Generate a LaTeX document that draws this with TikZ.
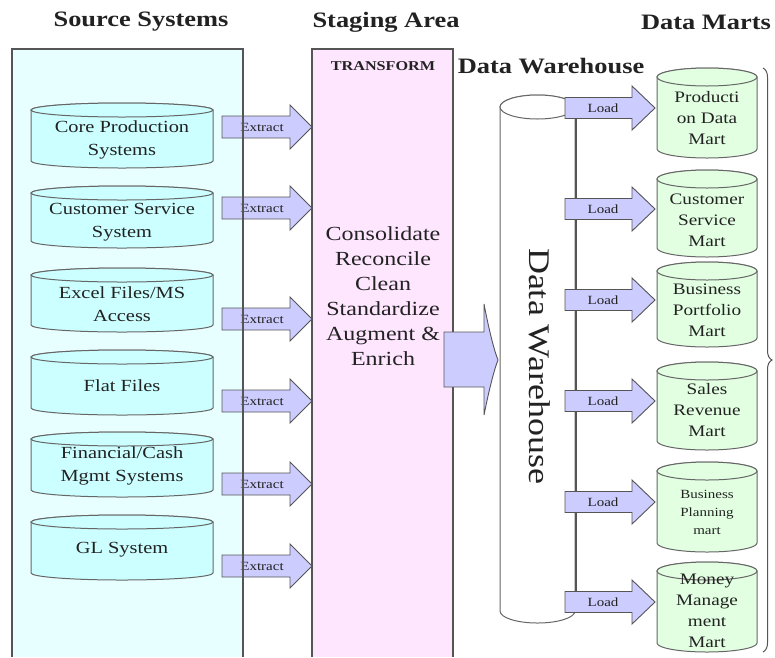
\documentclass[tikz,border=0pt]{standalone}
\usepackage{fontspec}
\setmainfont[FakeStretch=1.2]{Liberation Serif}
\usetikzlibrary{decorations.pathreplacing}
\definecolor{srcbg}{HTML}{E8FFFF}
\definecolor{srccyl}{HTML}{CCFFFF}
\definecolor{stagebg}{HTML}{FFE6FF}
\definecolor{arrfill}{HTML}{CCCCFF}
\definecolor{martfill}{HTML}{E2FFE2}
\definecolor{edgegray}{HTML}{555555}
\definecolor{cylgray}{HTML}{666666}
\definecolor{txtc}{HTML}{222222}
\newcommand\dbcyl[6]{%
  \pgfmathsetmacro\cxx{(#1+#3)/2}\pgfmathsetmacro\rxx{(#3-#1)/2}%
  \filldraw[#6] (#1,-#2-#5) -- (#1,-#4+#5) arc[start angle=180,end angle=360,x radius=\rxx,y radius=#5] -- (#3,-#2-#5) arc[start angle=0,end angle=180,x radius=\rxx,y radius=#5] -- cycle;
  \draw[#6] (\cxx,-#2-#5) ellipse[x radius=\rxx,y radius=#5];
}
\tikzset{
  titletxt/.style={font=\fontsize{22}{26}\selectfont\bfseries, text=txtc, inner sep=0pt},
  srctxt/.style={align=center, font=\fontsize{17}{23}\selectfont, text=txtc, inner sep=0pt},
  marttxt/.style={align=center, font=\fontsize{16}{21}\selectfont, text=txtc, inner sep=0pt},
  stagetxt/.style={align=center, font=\fontsize{20}{25}\selectfont, text=txtc, inner sep=0pt},
  lbl/.style={font=\fontsize{12.5}{14}\selectfont, text=txtc, inner sep=0pt},
  srccylstyle/.style={draw=cylgray, fill=srccyl, line width=1pt},
  martcylstyle/.style={draw=cylgray, fill=martfill, line width=1pt},
  arrshape/.style={draw=edgegray, fill=arrfill, line width=0.9pt},
  boxedge/.style={draw=edgegray, line width=1.1pt},
}
\begin{document}
\begin{tikzpicture}[x=1pt,y=1pt]
\useasboundingbox (0,0) rectangle (775,-657);
\fill[white] (0,0) rectangle (775,-657);
% titles
\node[titletxt] (tsrc) at (141,-22) {Source Systems};
\node[titletxt] (tstage) at (386,-22) {Staging Area};
\node[titletxt] (tmarts) at (706,-22) {Data Marts};
\node[titletxt] (tdw) at (551,-66) {Data Warehouse};
% source box
\fill[srcbg] (12,-49) rectangle (243,-657);
% source cylinders
\dbcyl{31}{103}{213}{168}{7}{srccylstyle}
\dbcyl{31}{186}{213}{248}{7}{srccylstyle}
\dbcyl{31}{268}{213}{332}{7}{srccylstyle}
\dbcyl{31}{350}{213}{415}{7}{srccylstyle}
\dbcyl{31}{432}{213}{497}{7}{srccylstyle}
\dbcyl{31}{515}{213}{580}{7}{srccylstyle}
\node[srctxt] (core) at (122,-140) {Core Production\\Systems};
\node[srctxt] (cust) at (122,-222) {Customer Service\\System};
\node[srctxt] (excel) at (122,-304) {Excel Files/MS\\Access};
\node[srctxt] (flat) at (122,-386) {Flat Files};
\node[srctxt] (fin) at (122,-466) {Financial/Cash\\Mgmt Systems};
\node[srctxt] (gl) at (122,-550) {GL System};
% staging box
\filldraw[boxedge, fill=stagebg] (312,-657) -- (312,-49) -- (453,-49) -- (453,-657);
\node[font=\fontsize{13.5}{15}\selectfont\bfseries, text=txtc, inner sep=0pt] (transform) at (383,-66) {TRANSFORM};
\node[stagetxt] (steps) at (383,-296) {Consolidate\\Reconcile\\Clean\\Standardize\\Augment \&\\Enrich};
% extract arrows
\foreach \yc/\nm in {127/ex1,208/ex2,319/ex3,401/ex4,484/ex5,566/ex6}{
  \filldraw[arrshape] (222,-\yc+11) -- (290,-\yc+11) -- (290,-\yc+22) -- (312,-\yc) -- (290,-\yc-22) -- (290,-\yc-11) -- (222,-\yc-11) -- cycle;
  \node[lbl] (\nm) at (262,-\yc) {Extract};
}
\draw[boxedge] (12,-657) -- (12,-49) -- (243,-49) -- (243,-657);
% data warehouse cylinder
\dbcyl{500}{95}{575}{623}{12}{draw=cylgray, fill=white, line width=1pt}
\draw[edgegray, line width=1.1pt] (576,-107) -- (576,-611);
\node[font=\fontsize{30}{34}\selectfont, text=txtc, inner sep=0pt, rotate=-90] (dwtxt) at (540,-366) {Data Warehouse};
% big arrow
\filldraw[arrshape] (444,-332) -- (484,-332) -- (484,-304) .. controls (489,-330) and (494,-350) .. (498,-360) .. controls (494,-370) and (489,-390) .. (484,-415) -- (484,-387) -- (444,-387) -- cycle;
% load arrows
\foreach \yc/\nm in {108/ld1,209/ld2,300/ld3,401/ld4,502/ld5,602/ld6}{
  \filldraw[arrshape] (565,-\yc+10.5) -- (632,-\yc+10.5) -- (632,-\yc+22) -- (655,-\yc) -- (632,-\yc-22) -- (632,-\yc-10.5) -- (565,-\yc-10.5) -- cycle;
  \node[lbl] (\nm) at (603,-\yc) {Load};
}
% data marts
\dbcyl{657}{68}{757}{158}{9}{martcylstyle}
\dbcyl{657}{170}{757}{257}{9}{martcylstyle}
\dbcyl{657}{262}{757}{347}{9}{martcylstyle}
\dbcyl{657}{362}{757}{450}{9}{martcylstyle}
\dbcyl{657}{462}{757}{552}{9}{martcylstyle}
\dbcyl{657}{562}{757}{652}{9}{martcylstyle}
\node[marttxt] (m1) at (707,-118) {Producti\\on Data\\Mart};
\node[marttxt] (m2) at (707,-220) {Customer\\Service\\Mart};
\node[marttxt] (m3) at (707,-310) {Business\\Portfolio\\Mart};
\node[marttxt] (m4) at (707,-410) {Sales\\Revenue\\Mart};
\node[align=center, font=\fontsize{12.5}{18}\selectfont, text=txtc, inner sep=0pt] (m5) at (707,-512) {Business\\Planning\\mart};
\node[marttxt] (m6) at (707,-611) {Money\\Manage\\ment\\Mart};
% brace
\draw[decorate, decoration={brace, amplitude=9pt}, edgegray, line width=1pt] (763,-68) -- (763,-652);
\end{tikzpicture}
\end{document}
